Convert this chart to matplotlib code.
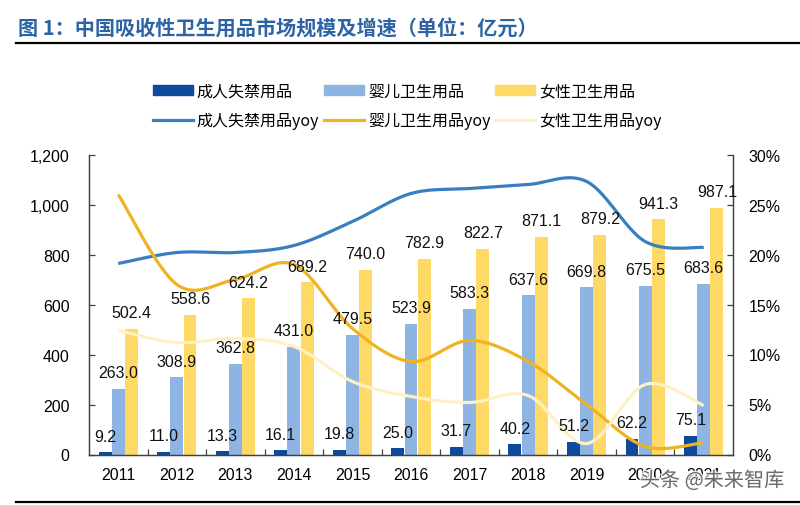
import numpy as np
import matplotlib
matplotlib.use("Agg")
import matplotlib.pyplot as plt
from matplotlib.lines import Line2D
from matplotlib.patches import Patch
import matplotlib.patheffects as pe

years = ["2011", "2012", "2013", "2014", "2015", "2016", "2017", "2018", "2019", "2020", "2021"]
adult = [9.2, 11.0, 13.3, 16.1, 19.8, 25.0, 31.7, 40.2, 51.2, 62.2, 75.1]
baby = [263.0, 308.9, 362.8, 431.0, 479.5, 523.9, 583.3, 637.6, 669.8, 675.5, 683.6]
female = [502.4, 558.6, 624.2, 689.2, 740.0, 782.9, 822.7, 871.1, 879.2, 941.3, 987.1]
# yoy in %
adult_yoy = [19.1, 20.2, 20.2, 20.9, 23.3, 26.1, 26.6, 27.0, 27.3, 21.3, 20.7]
baby_yoy = [26.0, 17.0, 17.5, 19.0, 12.6, 9.3, 11.4, 9.3, 5.0, 0.8, 1.2]
female_yoy = [12.4, 11.2, 11.6, 10.8, 7.3, 5.8, 5.2, 5.9, 1.1, 7.0, 4.9]

c_adult = "#0E4A9C"
c_baby = "#8DB4E2"
c_female = "#FFD966"
c_adult_l = "#3A7EC2"
c_baby_l = "#EEB320"
c_female_l = "#FFF0C6"

cjk = ["Noto Sans CJK SC", "DejaVu Sans"]
plt.rcParams["font.family"] = ["Liberation Sans", "DejaVu Sans"]


def smooth(xs, ys, n=30):
    # excel style smoothed line (bezier through points)
    p = np.column_stack([xs, ys]).astype(float)
    p = np.vstack([p[0], p, p[-1]])
    out = []
    t = np.linspace(0, 1, n)[:, None]
    for i in range(1, len(p) - 2):
        p0, p1, p2, p3 = p[i - 1], p[i], p[i + 1], p[i + 2]
        c1 = p1 + (p2 - p0) / 6
        c2 = p2 - (p3 - p1) / 6
        seg = (1 - t) ** 3 * p1 + 3 * (1 - t) ** 2 * t * c1 + 3 * (1 - t) * t ** 2 * c2 + t ** 3 * p2
        out.append(seg)
    out = np.vstack(out)
    return out[:, 0], out[:, 1]


fig = plt.figure(figsize=(8, 5.06), dpi=100)
ax = fig.add_axes([89 / 800, 1 - 455.5 / 506, (733 - 89) / 800, 300 / 506])
ax2 = ax.twinx()

x = np.arange(len(years))
w = 0.22
off = 0.225
ax.bar(x - off, adult, w, color=c_adult)
ax.bar(x, baby, w, color=c_baby)
ax.bar(x + off, female, w, color=c_female)

ax.set_xlim(-0.5, len(years) - 0.5)
ax.set_ylim(0, 1200)
ax.set_yticks(range(0, 1201, 200))
ax.set_yticklabels([f"{v:,}" for v in range(0, 1201, 200)])
ax.set_xticks(x)
ax.set_xticklabels(years)
ax.set_xticks(x[:-1] + 0.5, minor=True)

for col, ys in [(c_adult_l, adult_yoy), (c_baby_l, baby_yoy), (c_female_l, female_yoy)]:
    sx, sy = smooth(x, ys)
    ax2.plot(sx, sy, color=col, lw=2.3, solid_capstyle="butt")
ax2.set_ylim(0, 30)
ax2.set_yticks(range(0, 31, 5))
ax2.set_yticklabels([f"{v}%" for v in range(0, 31, 5)])

# data labels on top of everything
for dx, vals in [(-off, adult), (0, baby), (off, female)]:
    for xi, v in zip(x, vals):
        ax2.annotate(f"{v:.1f}", xy=(xi + dx, v), xycoords=ax.transData,
                     xytext=(0, 8.3), textcoords="offset points",
                     ha="center", va="baseline", fontsize=11.5, color="#111111")

spine_c = "#404040"
for a in (ax, ax2):
    for s in a.spines.values():
        s.set_color(spine_c)
        s.set_linewidth(0.9)
    a.spines["top"].set_visible(False)
ax.tick_params(axis="y", direction="in", length=4, width=0.9, color=spine_c, pad=14, labelsize=11.5)
ax.tick_params(axis="x", which="major", length=0, pad=9, labelsize=11.5)
ax.tick_params(axis="x", which="minor", direction="in", length=4, width=0.9, color=spine_c)
ax2.tick_params(axis="y", direction="in", length=4, width=0.9, color=spine_c, pad=11, labelsize=11.5)

handles = [
    Patch(color=c_adult), Line2D([], [], color=c_adult_l, lw=2.3),
    Patch(color=c_baby), Line2D([], [], color=c_baby_l, lw=2.3),
    Patch(color=c_female), Line2D([], [], color=c_female_l, lw=2.3),
]
labels = ["成人失禁用品", "成人失禁用品yoy", "婴儿卫生用品", "婴儿卫生用品yoy", "女性卫生用品", "女性卫生用品yoy"]
fig.legend(handles, labels, loc="center left", bbox_to_anchor=(152.7 / 800, 1 - 106.8 / 506),
           ncol=3, frameon=False, prop={"family": cjk, "size": 11.5},
           handlelength=2.5, handleheight=0.55, handletextpad=0.25, columnspacing=0.3,
           labelspacing=0.8, borderpad=0, borderaxespad=0)

fig.text(18 / 800, 1 - 29 / 506, "图 1：中国吸收性卫生用品市场规模及增速（单位：亿元）",
         family=cjk, fontsize=14.5, fontweight="bold", color="#2B63A5", va="center", ha="left")
fig.add_artist(Line2D([16 / 800, 1], [1 - 44 / 506] * 2, color="black", lw=1.6))
fig.add_artist(Line2D([16 / 800, 1], [1 - 503 / 506] * 2, color="black", lw=1.6))

fig.text(712 / 800, 1 - 482 / 506, "头条 @未来智库", family=cjk, fontsize=14.5, color="#555555",
         ha="center", va="center", alpha=0.85,
         path_effects=[pe.withStroke(linewidth=2, foreground="white")])

fig.savefig("out.png", dpi=100)
